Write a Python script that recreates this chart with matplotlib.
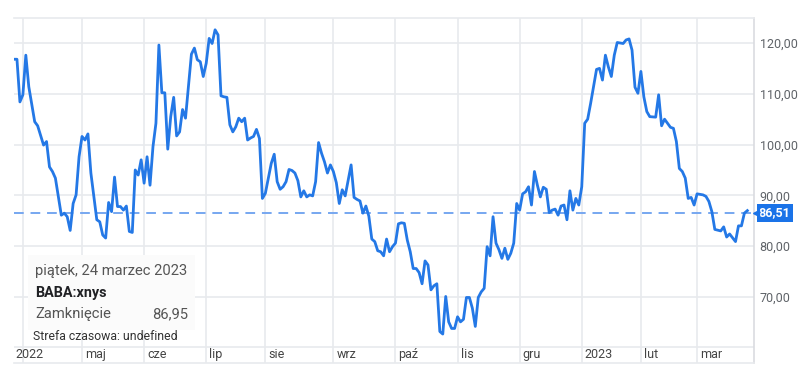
import numpy as np
import pandas as pd
import matplotlib
matplotlib.use('Agg')
import matplotlib.pyplot as plt
import matplotlib.transforms as mtransforms

plt.rcParams['font.family'] = ['Roboto', 'DejaVu Sans']

# NYSE sessions shown on the chart (x axis is the session number, not calendar days)
holidays = ['2022-04-15', '2022-05-30', '2022-06-20', '2022-07-04', '2022-09-05',
            '2022-11-24', '2022-12-26', '2023-01-02', '2023-01-16', '2023-02-20']
sessions = pd.bdate_range('2022-03-29', '2023-03-24', freq='C', holidays=holidays)

# session number / close price (BABA, xnys)
session = [0, 1, 2, 3, 4, 5, 7, 8, 10, 11, 12, 13, 14, 16, 17, 18, 19, 20, 21, 22,
           23, 24, 25, 26, 28, 29, 30, 31, 32, 33, 34, 35, 36, 37, 38, 39, 40,
           41, 42, 43, 44, 45, 46, 47, 48, 49, 50, 51, 52, 53, 54, 55, 56, 57, 58, 59,
           60, 61, 62, 63, 64, 65, 66, 67, 68, 69, 70, 71, 72, 73, 74, 75, 76, 77, 78,
           79, 80, 81, 82, 83, 84, 85, 86, 87, 88, 89, 90, 91, 92, 93, 94, 95, 96, 97,
           98, 99, 100, 101, 102, 103, 104, 105, 106, 107, 108, 109, 110, 111, 112,
           113, 114, 115, 116, 117, 118, 119, 120, 121, 122, 123, 124, 125, 126, 127,
           128, 129, 130, 131, 132, 133, 134, 135, 136, 137, 138, 139, 140, 141, 142,
           143, 144, 145, 146, 147, 148, 149, 150, 151, 152, 153, 154, 155, 156, 157,
           158, 159, 160, 161, 162, 163, 164, 165, 166, 167, 168, 169, 170, 171, 172,
           173, 174, 175, 176, 177, 178, 179, 180, 181, 182, 183, 184, 185, 186, 187,
           188, 189, 190, 191, 192, 193, 194, 195, 197, 198, 199, 200, 201, 202, 203,
           204, 206, 207, 208, 209, 210, 211, 212, 213, 214, 215, 217, 218, 219, 220,
           221, 222, 223, 224, 225, 226, 227, 228, 229, 230, 231, 233, 234, 235, 236,
           237, 239, 240, 241, 242, 244, 245, 246, 247, 248]
close = [116.8, 116.8, 108.4, 109.8, 117.6, 111.4, 104.5, 103.7, 99.9, 100.6, 95.6,
         94.7, 93.4, 86.1, 86.5, 85.8, 83.1, 88.4, 90.1, 97.6,
         101.6, 100.9, 102.1, 94.4, 85.2, 84.8, 82.2, 81.6, 88.6, 86.8, 93.6, 87.8,
         87.8, 87.1, 87.9, 82.9, 82.7,
         95.0, 94.0, 97.0, 92.4, 97.6, 92.0, 99.6, 104.2, 119.6, 110.2, 110.2, 99.1,
         105.5, 109.3, 101.7, 102.5, 106.9, 105.2, 111.4,
         117.8, 119.0, 116.7, 116.3, 113.4, 116.0, 120.9, 119.9, 122.6, 121.6, 109.6,
         109.4, 109.3, 103.9, 102.5, 103.5, 105.2, 104.5, 105.2,
         100.9, 101.3, 101.6, 103.0, 101.2, 89.4, 90.4, 93.4, 96.3, 98.1, 92.7, 91.2,
         91.7, 92.7, 95.1, 94.9, 94.4, 92.9, 89.7,
         90.9, 89.7, 90.1, 89.9, 92.7, 100.4, 98.3, 96.6, 94.4, 96.0, 94.7, 92.5, 88.4,
         91.1, 89.9,
         93.0, 96.0, 89.6, 89.2, 88.9, 86.5, 87.9, 85.9, 81.4, 80.9, 79.1, 78.9, 78.1,
         81.4, 78.9,
         79.9, 80.6, 84.4, 84.6, 84.5, 81.2, 78.9, 75.6, 75.6, 74.8, 72.6, 77.1, 76.3,
         71.4, 72.2,
         72.6, 63.2, 62.7, 70.1, 65.1, 63.8, 63.8, 66.1, 65.1, 65.6, 69.9, 69.9, 67.8,
         64.2, 69.9,
         71.0, 71.7, 79.9, 78.1, 85.8, 80.6, 79.3, 77.6, 79.6, 77.4, 78.6, 80.6, 88.4,
         87.1, 90.3,
         90.7, 91.7, 88.1, 94.7, 92.0, 89.7, 91.6, 91.2, 86.6, 87.1, 87.3, 86.1, 87.9,
         88.1, 85.2,
         90.9, 87.1, 89.4, 88.1, 91.7, 104.2, 105.0, 108.1, 114.8, 115.0, 112.7, 117.6,
         115.3, 113.4, 117.6,
         120.1, 119.9, 120.6, 120.8, 118.6, 111.3, 110.1, 114.4, 109.4, 106.5, 105.5,
         105.4, 109.8, 103.7, 105.0,
         104.2, 103.4, 103.2, 100.6, 95.3, 94.7, 93.4, 89.4, 89.6, 88.1, 90.3, 90.1,
         89.8, 88.8, 86.8,
         83.3, 83.0, 83.8, 81.8, 82.4, 80.9, 84.0, 84.0, 86.5, 87.0]

price_now = 86.51
month_labels = ['2022', 'maj', 'cze', 'lip', 'sie', 'wrz', 'paź', 'lis', 'gru', '2023', 'lut', 'mar']
y_ticks = [70, 80, 90, 100, 110, 120]

tip_date = 'piątek, 24 marzec 2023'
tip_symbol = 'BABA:xnys'
tip_label = 'Zamknięcie'
tip_value = '86,95'
tz_note = 'Strefa czasowa: undefined'

# first session of every month
month_start = [i for i in range(len(sessions)) if i == 0 or sessions[i].month != sessions[i - 1].month]
month_start = month_start[1:]

grid_c = '#e8eaed'
line_c = '#2478e6'
text_c = '#5f6368'

fig = plt.figure(figsize=(8.05, 3.8), dpi=100)
ax = fig.add_axes([14 / 805, 1 - 363 / 380, 740 / 805, 345 / 380])
ax.set_xlim(0, 250.25)
ax.set_ylim(57.0, 124.92)

band = 60.16  # line between plot area and month labels
for v in y_ticks + [band]:
    ax.axhline(v, color=grid_c, lw=1.2, zorder=0)
for m in month_start:
    ax.axvline(m, color=grid_c, lw=1.2, zorder=0)

ax.plot(session, close, color=line_c, lw=2.0, solid_joinstyle='round', zorder=3)
ax.axhline(price_now, color='#76a7f0', lw=1.4, ls=(0, (5, 3.5)), zorder=2)

ax.spines['left'].set_visible(False)
for s in ['top', 'bottom']:
    ax.spines[s].set_color(grid_c)
    ax.spines[s].set_linewidth(1.2)
ax.spines['right'].set_color('#dadce0')
ax.spines['right'].set_linewidth(1.2)

ax.set_xticks([])
ax.yaxis.tick_right()
ax.set_yticks(y_ticks)
ax.set_yticklabels([f'{v:.2f}'.replace('.', ',') for v in y_ticks])
ax.tick_params(axis='y', length=0, pad=4, labelsize=9, labelcolor=text_c)

# month labels in the band under the plot
trans = mtransforms.offset_copy(ax.transData, fig=fig, x=3, y=0, units='dots')
bt_x = mtransforms.blended_transform_factory(ax.transAxes, ax.transData)
for i, (m, lab) in enumerate(zip(month_start, month_labels)):
    if i == 0:
        ax.text(0.0015, (band + 57.0) / 2, lab, transform=bt_x,
                ha='left', va='center', fontsize=9, color='#444444')
    else:
        ax.text(m, (band + 57.0) / 2, lab, transform=trans, ha='left', va='center',
                fontsize=9, color='#444444')

# current price tag
ax.text(1.0065, price_now, '86,51', transform=bt_x, ha='left', va='center', fontsize=9,
        fontweight='bold', color='white', zorder=5, clip_on=False,
        bbox=dict(boxstyle='square,pad=0.18', fc='#1a73e8', ec='none'))
ax.plot([1.003], [price_now], marker='<', ms=4, color='#1a73e8', transform=bt_x, clip_on=False, zorder=5)

# tooltip box
fig.patches.append(plt.Rectangle((28 / 805, 1 - 330 / 380), 167 / 805, 75 / 380,
                                 transform=fig.transFigure, fc='#fbfbfb', ec='none', zorder=4))
fig.text(35 / 805, 1 - 271 / 380, tip_date, fontsize=10.6, color='#555555', va='center', zorder=5)
fig.text(35 / 805, 1 - 293 / 380, tip_symbol, fontsize=10.4, fontweight='bold', color='#202124', va='center', zorder=5)
fig.text(35 / 805, 1 - 314 / 380, tip_label, fontsize=10.6, color='#555555', va='center', zorder=5)
fig.text(188 / 805, 1 - 314 / 380, tip_value, fontsize=10.6, color='#555555', va='center', ha='right', zorder=5)
fig.text(33 / 805, 1 - 337 / 380, tz_note, fontsize=8.8, color='#333333', va='center', zorder=5)

fig.savefig('out.png', dpi=100, facecolor='white')
